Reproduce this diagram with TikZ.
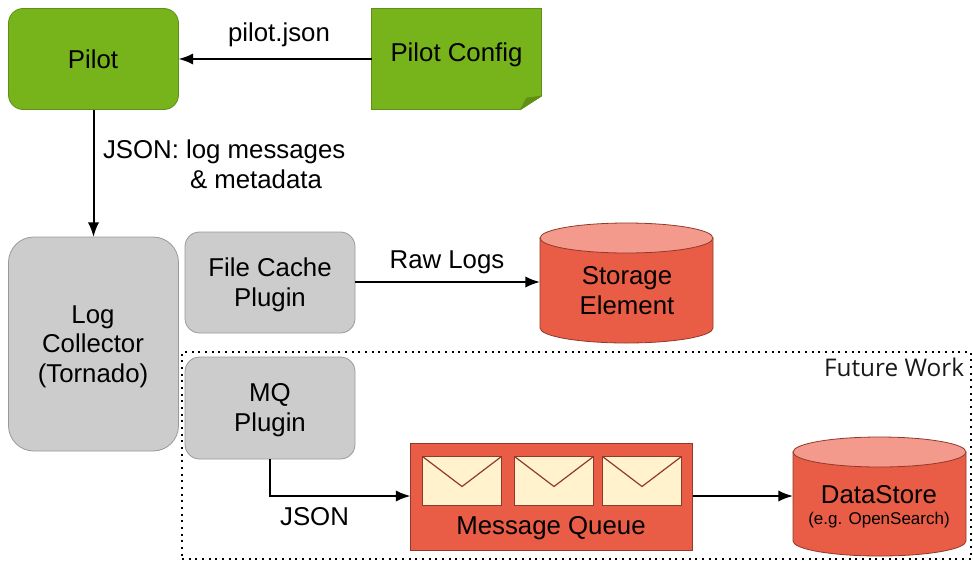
\documentclass[tikz,border=0pt]{standalone}
\usepackage{fontspec}
\setmainfont{Liberation Sans}
\newfontfamily\futurefont{Open Sans}
\usetikzlibrary{arrows.meta}
\definecolor{grn}{HTML}{77B31B}
\definecolor{grnd}{HTML}{5F9015}
\definecolor{grnf}{HTML}{5F9015}
\definecolor{gry}{HTML}{CCCCCC}
\definecolor{gryd}{HTML}{999999}
\definecolor{redf}{HTML}{E95C45}
\definecolor{redt}{HTML}{F39A8C}
\definecolor{redd}{HTML}{8F3A2A}
\definecolor{envf}{HTML}{FFF2CC}
\tikzset{
  every node/.style={outer sep=0pt},
  lbl/.style={font=\fontsize{19.35}{22.2}\selectfont,align=center,inner sep=0pt},
  smalllbl/.style={font=\fontsize{12.75}{14}\selectfont,align=center,inner sep=0pt},
  roundbox/.style={draw=gryd,fill=gry,line width=0.6pt,rounded corners=11pt,inner sep=0pt},
  greenbox/.style={draw=grnd,fill=grn,line width=0.6pt,rounded corners=11pt,inner sep=0pt},
  conn/.style={draw=black,line width=1.5pt,-{Latex[length=11pt,width=8.5pt]}},
  envbox/.style={draw=redd,fill=envf,line width=1.2pt},
  anchorbox/.style={inner sep=0pt},
}
\newcommand{\cyl}[5]{% name, left, right, top, bottom
  \path[draw=redd,fill=redf,line width=0.6pt]
    (#2,#4+15) -- (#2,#5-15) arc[start angle=180,end angle=0,x radius={(#3-#2)/2},y radius=15]
    -- (#3,#4+15) -- cycle;
  \path[draw=redd,fill=redt,line width=0.6pt]
    ({(#2+#3)/2},#4+15) ellipse[x radius={(#3-#2)/2},y radius=15];
  \node[anchorbox,minimum width={(#3-#2)*0.75pt},minimum height={(#5-#4)*0.75pt}] (#1) at ({(#2+#3)/2},{(#4+#5)/2}) {};
}
\newcommand{\envl}[4]{% name, left, right, top
  \node[envbox,anchor=north west,minimum width=59.25pt,minimum height=36.75pt,inner sep=0pt] (#1) at (#2,#4) {};
  \draw[redd,line width=0.9pt] (#1.north west) -- ({(#2+#3)/2},#4+30) -- (#1.north east);
}
\begin{document}
\begin{tikzpicture}[x=0.75pt,y=-0.75pt]
\useasboundingbox (0,0) rectangle (973,561);
% future work frame
\node[draw=black,line width=1.5pt,dash pattern=on 1.5pt off 3.5pt,minimum width=591.75pt,minimum height=155.25pt,inner sep=0pt,anchor=north west] (future) at (182,352) {};
\node[anchor=east,inner sep=0pt,font=\futurefont\fontsize{18.25}{20}\selectfont,text=black!90] (futurelabel) at (964,367.5) {Future Work};
% green
\node[greenbox,minimum width=127.5pt,minimum height=75.75pt,anchor=north west,lbl] (pilot) at (8.5,8.5) {};
\node[lbl] (pilottext) at (93,59) {Pilot};
\node[minimum width=127.5pt,minimum height=75.75pt,anchor=north west,inner sep=0pt] (config) at (371.5,8.5) {};
\draw[grnd,line width=0.6pt,fill=grn] (520.5,109.5) -- (371.5,109.5) -- (371.5,8.5) -- (541.5,8.5) -- (541.5,96) -- cycle;
\fill[grnf,draw=grnd,line width=0.4pt] (541.5,96) -- (526.5,98) -- (520.5,109.5) -- cycle;
\node[lbl] (configtext) at (456.5,55) {Pilot Config};
% gray
\node[roundbox,rounded corners=19pt,minimum width=127.5pt,minimum height=160.5pt,anchor=north west] (collector) at (8.5,237) {};
\node[lbl] (collectortext) at (93,346.5) {Log\\Collector\\(Tornado)};
\node[roundbox,minimum width=127.5pt,minimum height=75.75pt,anchor=north west] (filecache) at (185,232) {};
\node[lbl] (filecachetext) at (270,285) {File Cache\\Plugin};
\node[roundbox,minimum width=127.5pt,minimum height=76.5pt,anchor=north west] (mq) at (185,357) {};
\node[lbl] (mqtext) at (270,410) {MQ\\Plugin};
% cylinders
\cyl{storage}{540}{713}{223}{343}
\node[lbl] (storagetext) at (627,290.5) {Storage\\Element};
\cyl{datastore}{793}{966}{437}{556}
\node[lbl] (datastoretext) at (879,495) {DataStore};
\node[smalllbl] (datastoresub) at (879,520) {(e.g. OpenSearch)};
% queue
\node[draw=redd,fill=redf,line width=0.6pt,minimum width=211.5pt,minimum height=80.25pt,inner sep=0pt,anchor=north west] (queue) at (410.5,443) {};
\envl{env1}{422.5}{501.5}{456.5}
\envl{env2}{514.5}{593.5}{456.5}
\envl{env3}{602.5}{681.5}{456.5}
\node[lbl] (queuetext) at (551,528) {Message Queue};
% connectors
\draw[conn] (config.west |- 0,59) -- (pilot.east |- 0,59);
\draw[conn] (pilot.south) -- (collector.north);
\draw[conn] (filecache.east |- 0,282) -- (storage.west |- 0,282);
\draw[conn] (mq.south) |- (queue.west |- 0,496);
\draw[conn] (queue.east |- 0,496) -- (datastore.west |- 0,496);
% labels
\node[lbl] (pilotjson) at (279,35) {pilot.json};
\node[lbl,anchor=west] (jsonlog) at (103,151.5) {JSON: log messages};
\node[lbl,anchor=west] (metadata) at (190,179.5) {\& metadata};
\node[lbl] (rawlogs) at (447,262.5) {Raw Logs};
\node[lbl] (jsonlbl) at (314.5,517) {JSON};
\end{tikzpicture}
\end{document}
